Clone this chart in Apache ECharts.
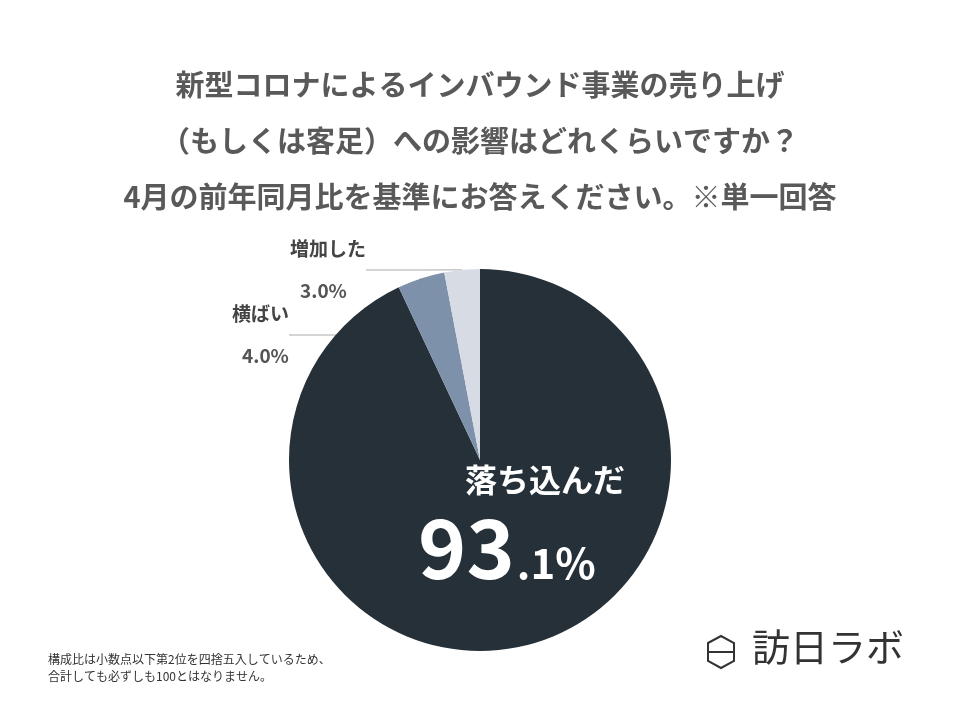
<!DOCTYPE html>
<html><head><meta charset="utf-8">
<script src="https://cdn.jsdelivr.net/npm/echarts@6/dist/echarts.min.js"></script>
<style>body{margin:0}#c{width:960px;height:720px}</style>
</head><body><div id="c"></div>
<script>
// 回答データ
var names = ['落ち込んだ', '横ばい', '増加した'];
var values = [93.1, 4.0, 3.0];
var colors = ['#263038', '#7e91aa', '#d6dbe4'];
var titleLines = [
  '新型コロナによるインバウンド事業の売り上げ',
  '（もしくは客足）への影響はどれくらいですか？',
  '4月の前年同月比を基準にお答えください。※単一回答'
];

var chart = echarts.init(document.getElementById('c'));
var font = '"Noto Sans CJK JP", sans-serif';
var labelPos = [null, { x: 232, y: 294 }, { x: 290, y: 229 }];

var data = names.map(function (n, i) {
  var d = { name: n, value: values[i], itemStyle: { color: colors[i] } };
  if (i === 0) {
    d.label = {
      position: 'inside',
      align: 'left',
      formatter: '{a|' + n + '}\n{b|93}{c|.1%}',
      rich: {
        a: { fontSize: 32, fontWeight: 'bold', color: '#fff', fontFamily: font, padding: [0, 0, 0, 47], lineHeight: 56 },
        b: { fontSize: 82, fontWeight: 'bold', color: '#fff', fontFamily: font, lineHeight: 80 },
        c: { fontSize: 42, fontWeight: 'bold', color: '#fff', fontFamily: font, verticalAlign: 'bottom', padding: [0, 0, 4, 2] }
      }
    };
    d.labelLine = { show: false };
  }
  return d;
});

chart.setOption({
  backgroundColor: '#fff',
  graphic: titleLines.map(function (t, i) {
    return { type: 'text', left: 'center', top: 70 + i * 56,
      style: { text: t, font: 'bold 29px ' + font, fill: '#595959' } };
  }).concat([
    { type: 'text', left: 48, top: 651,
      style: { text: '構成比は小数点以下第2位を四捨五入しているため、\n合計しても必ずしも100とはなりません。', font: '12px ' + font, fill: '#333', lineHeight: 17 } },
    { type: 'polygon', shape: { points: [[708, 643], [721, 636], [734, 643], [734, 661], [721, 668], [708, 661]] },
      style: { fill: 'none', stroke: '#333', lineWidth: 2 } },
    { type: 'line', shape: { x1: 708, y1: 652, x2: 734, y2: 652 }, style: { stroke: '#333', lineWidth: 2 } },
    { type: 'text', left: 752, top: 628,
      style: { text: '訪日ラボ', font: '38px ' + font, fill: '#333' } }
  ]),
  series: [{
    type: 'pie',
    center: [480, 460],
    radius: 191,
    startAngle: 90,
    clockwise: true,
    animation: false,
    data: data,
    label: {
      show: true,
      formatter: function (p) { return '{n|' + p.name + '}\n{p|' + p.value.toFixed(1) + '%}'; },
      rich: {
        n: { fontSize: 19, fontWeight: 'bold', color: '#444', fontFamily: font, lineHeight: 40 },
        p: { fontSize: 19, fontWeight: 'bold', color: '#555', fontFamily: font, lineHeight: 44, padding: [0, 0, 0, 10] }
      }
    },
    labelLine: { show: true, length: 20, length2: 60, lineStyle: { color: '#aaa', width: 1 } },
    labelLayout: function (p) {
      if (p.dataIndex === 0) return { x: 418, y: 452, align: 'left', verticalAlign: 'top' };
      var pos = labelPos[p.dataIndex];
      return { x: pos.x, y: pos.y, align: 'left', verticalAlign: 'top' };
    }
  }]
});
</script></body></html>
